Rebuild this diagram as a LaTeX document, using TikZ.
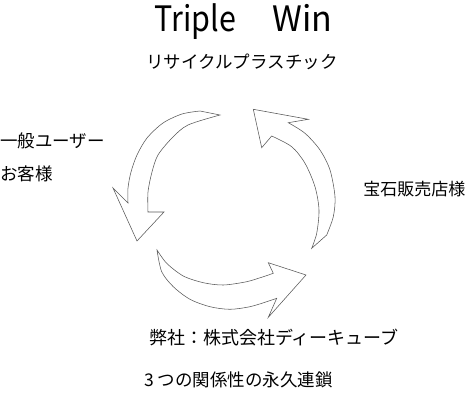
\documentclass[tikz,border=0pt]{standalone}
\usepackage{fontspec}
\setmainfont{Noto Sans CJK JP}
\begin{document}
\begin{tikzpicture}[x=1pt,y=-1pt]
\tikzset{
  blockarrow/.style={draw=black!65, line width=0.55pt, fill=white, line join=miter},
  lbl/.style={inner sep=0pt, anchor=west, font=\fontsize{17.5}{20}\selectfont},
  ctr/.style={inner sep=0pt, anchor=center, font=\fontsize{17.5}{20}\selectfont}
}
\useasboundingbox[fill=white] (0,0) rectangle (466,412);
% left arrow
\draw[blockarrow] plot[smooth] coordinates {(200,111) (182,114) (163,123) (147,138) (137,155) (131,172) (128,188) (128,203)}
  -- (113,188) -- (137,241) -- (164,212) -- (148,212)
  -- plot[smooth] coordinates {(148,212) (148,192) (152,172) (158,155) (172,138) (188,125) (220,115)} -- cycle;
% bottom arrow
\draw[blockarrow] plot[smooth] coordinates {(157,250) (161.7,271.7) (173.3,286.7) (190,299.3) (210,306.7) (230,309.3) (250,306.7) (266.7,301.7) (276.7,298.3)}
  -- (268.3,317.3) -- (306,275) -- (268.3,262.7) -- (273.3,273.3)
  -- plot[smooth] coordinates {(273.3,273.3) (263.3,276.7) (246.7,281.7) (223.3,285) (203.3,282.7) (183.3,276) (166.7,263.3) (157,250)} -- cycle;
% right arrow
\draw[blockarrow] plot[smooth] coordinates {(288.3,122.7) (305,133.3) (320,150) (330,170) (335,196.7) (333.3,216.7) (326.7,235)}
  -- (311.7,248.3)
  -- plot[smooth] coordinates {(311.7,248.3) (316.7,233.3) (319,210) (315,186.7) (305,163.3) (291.7,146.7) (271.7,136)}
  -- (261.7,147.7) -- (253.3,109.3) -- (308.3,119.3) -- cycle;
% texts
\node[inner sep=0pt, anchor=base, font=\fontsize{35}{38}\selectfont] (title) at (243.5,31.5) {\scalebox{0.87}[1]{Triple}\hspace{36pt}\scalebox{0.97}[1]{Win}};
\node[ctr] (sub) at (242,62) {リサイクルプラスチック};
\node[lbl] (user) at (0,141) {一般ユーザー};
\node[lbl] (cust) at (0,174) {お客様};
\node[lbl, anchor=east, font=\fontsize{17}{20}\selectfont] (shop) at (465.5,189) {宝石販売店様};
\node[lbl, font=\fontsize{18}{20}\selectfont] (us) at (149,338) {弊社：株式会社ディーキューブ};
\node[lbl] (chain) at (144,380) {3 つの関係性の永久連鎖};
\end{tikzpicture}
\end{document}
